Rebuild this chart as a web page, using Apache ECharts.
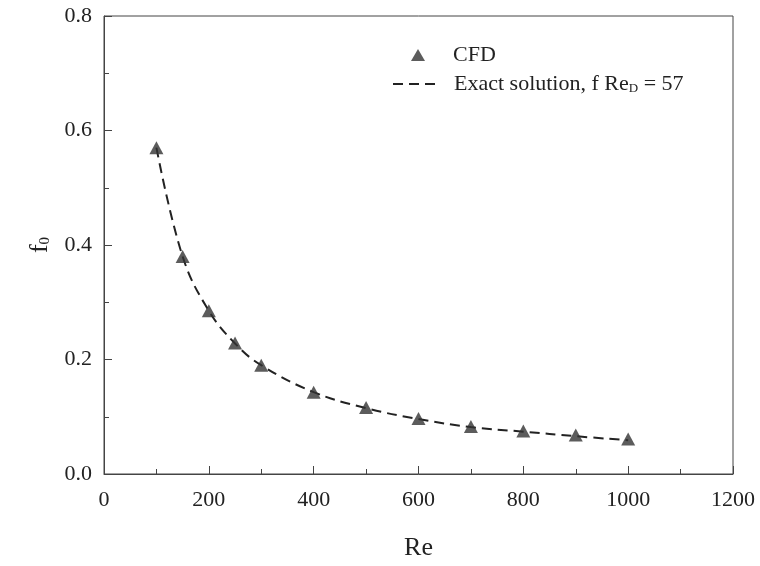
<!DOCTYPE html>
<html><head><meta charset="utf-8">
<script src="https://cdn.jsdelivr.net/npm/echarts@6/dist/echarts.min.js"></script>
<style>html,body{margin:0;padding:0;background:#fff}#c{width:760px;height:566px}</style>
</head><body><div id="c"></div>
<script>
const reValues = [100, 150, 200, 250, 300, 400, 500, 600, 700, 800, 900, 1000];
const cfdValues = [0.570, 0.380, 0.285, 0.229, 0.190, 0.143, 0.116, 0.097, 0.083, 0.075, 0.068, 0.061];
const exactValues = [0.570, 0.380, 0.285, 0.228, 0.190, 0.143, 0.115, 0.096, 0.082, 0.074, 0.066, 0.059];
const xTicks = [0, 200, 400, 600, 800, 1000, 1200];
const yTicks = ['0.0', '0.2', '0.4', '0.6', '0.8'];

const font = 'Liberation Serif';
const txt = '#222';
const chart = echarts.init(document.getElementById('c'));
chart.setOption({
  backgroundColor: '#fff',
  animation: false,
  textStyle: { fontFamily: font },
  grid: { left: 104, right: 27, top: 16, bottom: 90, show: true, borderColor: '#444', borderWidth: 1 },
  legend: [
    {
      left: 406, top: 39, itemWidth: 14, itemHeight: 12,
      textStyle: { fontFamily: font, fontSize: 22, color: txt, padding: [0, 0, 0, 23] },
      data: [{ name: 'CFD' }]
    },
    {
      left: 387, top: 68, itemWidth: 43, itemHeight: 12,
      textStyle: { fontFamily: font, fontSize: 22, color: txt, padding: [0, 0, 0, 13],
        rich: { sub: { fontSize: 13, verticalAlign: 'bottom', padding: [9, 0, 0, 0], fontFamily: font, color: txt } } },
      formatter: function () { return 'Exact solution, f Re{sub|D} = 57'; },
      data: [{ name: 'Exact', itemStyle: { opacity: 0 } }]
    }
  ],
  xAxis: {
    type: 'value', min: 0, max: 1200, interval: 200,
    name: 'Re', nameLocation: 'middle', nameGap: 61,
    nameTextStyle: { fontFamily: font, fontSize: 26, color: txt },
    axisLine: { show: true, lineStyle: { color: '#444' } },
    axisTick: { inside: true, length: 8, lineStyle: { color: '#444' } },
    minorTick: { show: true, splitNumber: 2, length: 5, lineStyle: { color: '#444' } },
    splitLine: { show: false },
    axisLabel: { fontFamily: font, fontSize: 22, color: txt, margin: 15,
      formatter: v => xTicks.includes(v) ? String(v) : '' }
  },
  yAxis: {
    type: 'value', min: 0, max: 0.8, interval: 0.2,
    name: '{f|f}{s|0}', nameLocation: 'middle', nameGap: 51, nameRotate: 90,
    nameTextStyle: { fontFamily: font, fontSize: 26, color: txt,
      rich: { f: { fontFamily: font, fontSize: 26, color: txt },
              s: { fontFamily: font, fontSize: 15, color: txt, verticalAlign: 'bottom', padding: [10, 0, 0, 0] } } },
    axisLine: { show: true, lineStyle: { color: '#444' } },
    axisTick: { inside: true, length: 8, lineStyle: { color: '#444' } },
    minorTick: { show: true, splitNumber: 2, length: 5, lineStyle: { color: '#444' } },
    splitLine: { show: false },
    axisLabel: { fontFamily: font, fontSize: 22, color: txt, margin: 12,
      formatter: v => yTicks[Math.round(v / 0.2)] }
  },
  series: [
    { name: 'Exact', type: 'line', smooth: 0.4, symbol: 'none', z: 2,
      data: reValues.map((x, i) => [x, exactValues[i]]),
      lineStyle: { color: '#222', width: 2, type: [10, 6] },
      itemStyle: { color: '#222' } },
    { name: 'CFD', type: 'scatter', symbol: 'triangle', symbolSize: [14, 13], z: 3,
      data: reValues.map((x, i) => [x, cfdValues[i]]),
      itemStyle: { color: '#333' } }
  ]
});
</script></body></html>
